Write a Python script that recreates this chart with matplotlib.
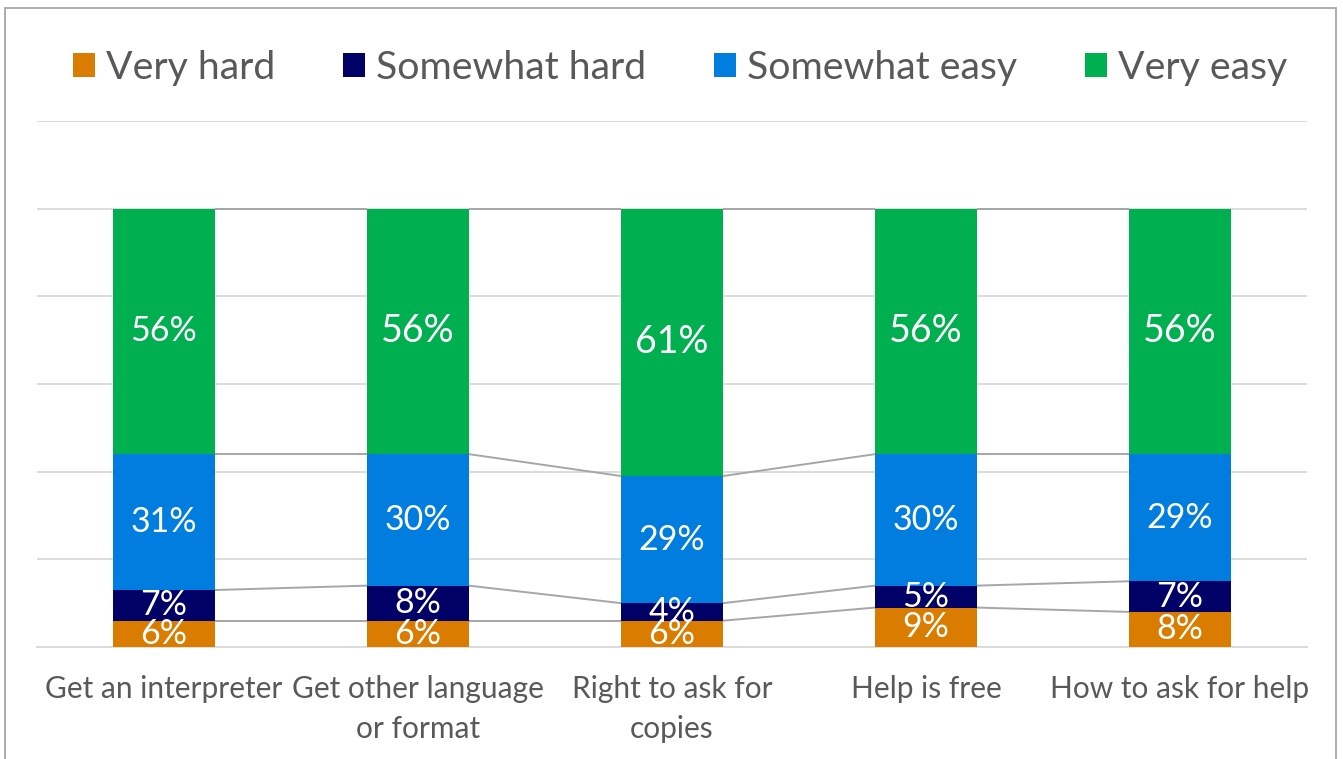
import matplotlib
matplotlib.use("Agg")
import matplotlib.pyplot as plt
from matplotlib.patches import Rectangle
import numpy as np

plt.rcParams['font.family'] = ['Lato', 'DejaVu Sans']

categories = ["Get an interpreter", "Get other language\nor format",
              "Right to ask for\ncopies", "Help is free", "How to ask for help"]
series_names = ["Very hard", "Somewhat hard", "Somewhat easy", "Very easy"]
very_hard = [6, 6, 6, 9, 8]
somewhat_hard = [7, 8, 4, 5, 7]
somewhat_easy = [31, 30, 29, 30, 29]
very_easy = [56, 56, 61, 56, 56]
colors = ["#D97C00", "#000066", "#007DDE", "#00AF50"]

W, H = 1343, 759
fig = plt.figure(figsize=(W / 100, H / 100), dpi=100)
ax = fig.add_axes([37 / W, 1 - 647 / H, 1270 / W, 526 / H])

x = np.arange(len(categories))
bar_w = 0.4
text_col = "#595959"
series = [very_hard, somewhat_hard, somewhat_easy, very_easy]

bottom = np.zeros(len(categories))
tops = []
for vals, name, col in zip(series, series_names, colors):
    vals = np.array(vals, dtype=float)
    ax.bar(x, vals, bar_w, bottom=bottom, color=col, label=name, zorder=3)
    for i, v in enumerate(vals):
        big = (name == "Very easy" and i > 0)
        ax.text(x[i], bottom[i] + v / 2, f"{int(v)}%", ha="center", va="center",
                color="white", fontsize=27 if big else 24.5, zorder=5,
                clip_on=True)
    bottom = bottom + vals
    tops.append(bottom.copy())

# series lines joining the top of each segment between neighbouring bars
for t in tops:
    for i in range(len(categories) - 1):
        ax.plot([x[i] + bar_w / 2, x[i + 1] - bar_w / 2], [t[i], t[i + 1]],
                color="#A6A6A6", lw=1.4, zorder=2, solid_capstyle="butt")

ax.set_xlim(-0.5, len(categories) - 0.5)
ax.set_ylim(0, 120)
ax.set_yticks(np.arange(0, 121, 20))
ax.yaxis.grid(True, color="#D9D9D9", lw=1.3, zorder=0)
ax.set_axisbelow(True)
ax.tick_params(axis="y", left=False, labelleft=False)
ax.tick_params(axis="x", bottom=False, pad=17, labelsize=21.5, colors=text_col)
ax.set_xticks(x)
ax.set_xticklabels(categories, linespacing=1.5)
for s in ["top", "right", "left"]:
    ax.spines[s].set_visible(False)
ax.spines["bottom"].set_color("#D9D9D9")
ax.spines["bottom"].set_linewidth(1.3)

fig.legend(loc="center", bbox_to_anchor=(680 / W, 1 - 68 / H), ncol=4,
           frameon=False, fontsize=28.3, labelcolor=text_col,
           handlelength=0.56, handleheight=0.56, handletextpad=0.28,
           columnspacing=1.72)

# chart frame
fig.add_artist(Rectangle((5 / W, -0.05), 1331 / W, 1.05 - 8 / H,
                         transform=fig.transFigure, fill=False,
                         edgecolor="#A6A6A6", lw=1.3))

fig.savefig("out.png", dpi=100)
